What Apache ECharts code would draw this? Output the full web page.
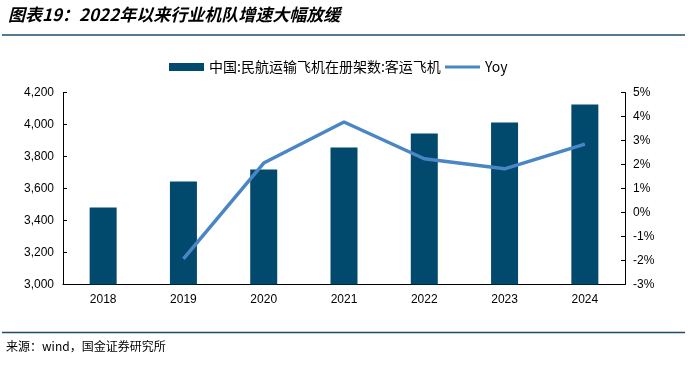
<!DOCTYPE html>
<html><head><meta charset="utf-8">
<script src="https://cdn.jsdelivr.net/npm/echarts@6/dist/echarts.min.js"></script>
<style>html,body{margin:0;padding:0;background:#fff}#c{width:693px;height:368px}</style>
</head><body><div id="c"></div>
<script>
const categories = ['2018','2019','2020','2021','2022','2023','2024'];
const fleet = [3481, 3644, 3719, 3856, 3944, 4012, 4125];
const yoy = [null, -1.93, 2.06, 3.77, 2.24, 1.82, 2.85];
const leftTicks = {min: 3000, max: 4200, interval: 200};
const rightTicks = {min: -3, max: 5, interval: 1};
const barName = '中国:民航运输飞机在册架数:客运飞机';
const lineName = 'Yoy';

const chart = echarts.init(document.getElementById('c'));
const lab = {color:'#000', fontFamily:'Liberation Sans, Arial', fontSize:12};
const legText = {color:'#000', fontSize:14, fontFamily:'"Noto Sans CJK SC", Liberation Sans'};
chart.setOption({
  animation:false,
  graphic:[
    {type:'text', left:8, top:6, style:{text:'图表19：2022年以来行业机队增速大幅放缓', font:'italic bold 17px "Noto Sans CJK SC"', fill:'#000'}},
    {type:'line', shape:{x1:2,y1:35,x2:685,y2:35}, style:{stroke:'#1c4d6f', lineWidth:1.5}},
    {type:'line', shape:{x1:2,y1:332.5,x2:685,y2:332.5}, style:{stroke:'#1c4d6f', lineWidth:1.5}},
    {type:'text', left:6, top:340, style:{text:'来源：wind，国金证券研究所', font:'12px "Noto Sans CJK SC"', fill:'#000'}}
  ],
  legend:[
    {left:169, top:60, padding:0, itemWidth:35, itemHeight:8, itemGap:4, textStyle:legText,
     data:[{name:barName, icon:'rect'}]},
    {left:445, top:60, padding:0, itemWidth:35, itemHeight:3, itemGap:3, textStyle:legText,
     data:[{name:lineName, icon:'rect'}]}
  ],
  grid:{left:63, right:68, top:92.5, bottom:83.5},
  xAxis:{type:'category', data:categories, boundaryGap:true,
    axisLine:{onZero:false, lineStyle:{color:'#000', width:1}},
    axisTick:{inside:true, length:4, lineStyle:{color:'#000'}},
    axisLabel:Object.assign({margin:9}, lab)},
  yAxis:[
    {type:'value', min:leftTicks.min, max:leftTicks.max, interval:leftTicks.interval,
     axisLine:{show:true, lineStyle:{color:'#000'}},
     axisTick:{show:true, inside:true, length:4, lineStyle:{color:'#000'}},
     splitLine:{show:false},
     axisLabel:Object.assign({margin:9, formatter:v=>v.toLocaleString('en-US')}, lab)},
    {type:'value', min:rightTicks.min, max:rightTicks.max, interval:rightTicks.interval,
     axisLine:{show:true, lineStyle:{color:'#000'}},
     axisTick:{show:true, inside:true, length:4, lineStyle:{color:'#000'}},
     splitLine:{show:false},
     axisLabel:Object.assign({margin:8, formatter:v=>v+'%'}, lab)}
  ],
  series:[
    {name:barName, type:'bar', data:fleet, barWidth:27, itemStyle:{color:'#02496e'}},
    {name:lineName, type:'line', yAxisIndex:1, data:yoy, symbol:'none',
     lineStyle:{color:'#4a86c6', width:3.5}, itemStyle:{color:'#4a86c6'}}
  ]
});
</script></body></html>
